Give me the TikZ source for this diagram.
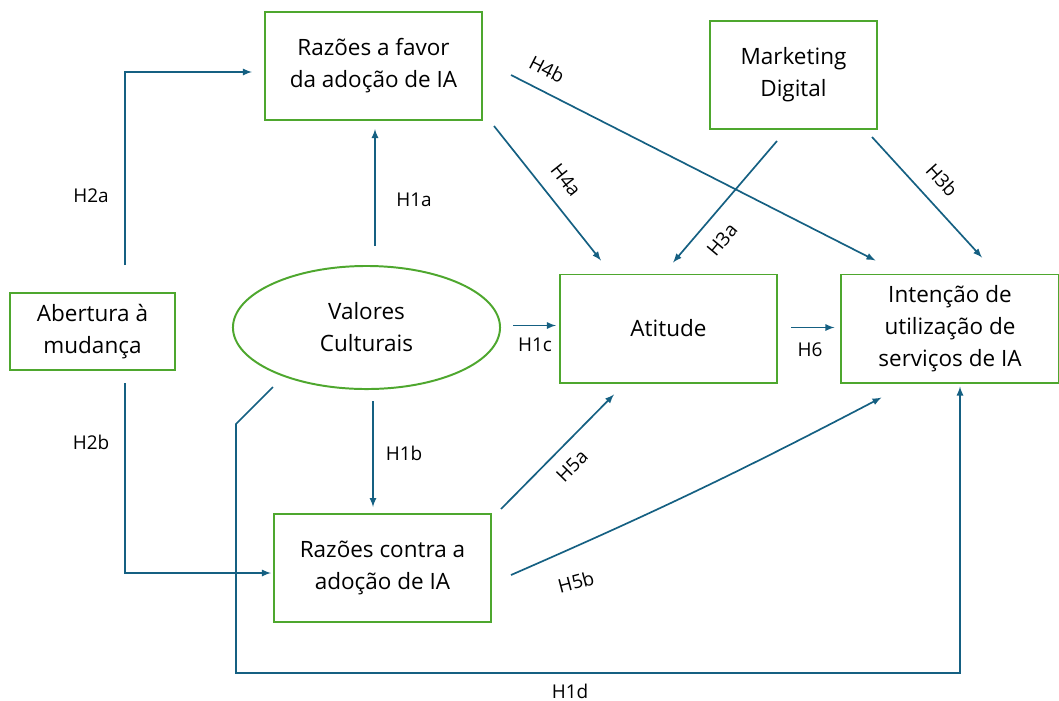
\documentclass[tikz,border=0pt]{standalone}
\usepackage{fontspec}
\setmainfont{Open Sans}
\usetikzlibrary{shapes.geometric,positioning}
\definecolor{boxgreen}{RGB}{78,167,46}
\definecolor{arrblue}{RGB}{21,96,130}
\newcommand{\boxfont}{\fontsize{16}{22.7}\selectfont}
\newcommand{\hypfont}{\fontsize{13.5}{16}\selectfont}

\begin{document}
\begin{tikzpicture}
        [x=0.025cm, y=-0.025cm,
         box/.style={draw=boxgreen, line width=1.4pt, align=center, inner sep=0pt,
                     font=\boxfont, minimum width=5.425cm, minimum height=2.7cm},
         hyp/.style={draw=arrblue, line width=1.2pt, -latex},
         lbl/.style={font=\hypfont, inner sep=0pt}]

        \useasboundingbox (0,0) rectangle (1059,700);

        \node [box] (fav) at (373.5,66) {Razões a favor\\da adoção de IA};
        \node [box, minimum width=4.175cm] (mkt) at (793.5,75) {Marketing\\Digital};
        \node [box, minimum width=4.125cm, minimum height=1.925cm] (abe) at (92.5,331.5) {Abertura à\\mudança};
        \node [box, ellipse, minimum width=6.675cm, minimum height=3.075cm] (val) at (366.5,327.5) {Valores\\Culturais};
        \node [box] (ati) at (668.5,328.5) {Atitude};
        \node [box] (int) at (950,328.5) {Intenção de\\utilização de\\serviços de IA};
        \node [box] (con) at (382.5,568) {Razões contra a\\adoção de IA};

        \node [lbl] (l2a) at (91,196) {H2a};
        \node [lbl] (l1a) at (414,200) {H1a};
        \node [lbl] (l2b) at (91,442) {H2b};
        \node [lbl] (l1b) at (404,453) {H1b};
        \node [lbl] (l1c) at (535,345) {H1c};
        \node [lbl] (l6) at (810,350) {H6};
        \node [lbl, rotate=-51.5] (l4a) at (566,180) {H4a};
        \node [lbl, rotate=-27] (l4b) at (547,69) {H4b};
        \node [lbl, rotate=50] (l3a) at (722,240) {H3a};
        \node [lbl, rotate=-48] (l3b) at (942,180) {H3b};
        \node [lbl, rotate=45.7] (l5a) at (572,466) {H5a};
        \node [lbl, rotate=15] (l5b) at (576,582) {H5b};
        \node [lbl] (l1d) at (570,691) {H1d};

        \draw [hyp] ([shift={(32.5,-27)}]abe.north) |- ([shift={(-12,6)}]fav.west);
        \draw [hyp] ([shift={(8.5,-19)}]val.north) -- ([shift={(1.5,8)}]fav.south);
        \draw [hyp] ([shift={(6.5,11)}]val.south) -- ([shift={(-9.5,-6)}]con.north);
        \draw [hyp] ([shift={(32.5,12)}]abe.south) |- ([shift={(-2,5)}]con.west);
        \draw [hyp] ([shift={(12,-2)}]val.east) -- ([shift={(-3,-3)}]ati.west);
        \draw [hyp] ([shift={(13,-1)}]ati.east) -- ([shift={(-6,-1)}]int.west);
        \draw [hyp] ([shift={(11,5)}]fav.south east) -- ([shift={(42,-13)}]ati.north west);
        \draw [hyp] ([shift={(28,9)}]fav.east) -- ([shift={(35,-13)}]int.north west);
        \draw [hyp] ([shift={(-16.5,11)}]mkt.south) -- ([shift={(4.5,-11)}]ati.north);
        \draw [hyp] ([shift={(-6,7)}]mkt.south east) -- ([shift={(32,-16)}]int.north);
        \draw [hyp] ([shift={(9,-4)}]con.north east) -- ([shift={(-54.5,11)}]ati.south);
        \draw [hyp] ([shift={(19,7)}]con.east) to [bend right=2] ([shift={(41,14)}]int.south west);
        \draw [hyp] ([shift={(-93.5,-3)}]val.south) -- ++(-37,37) -- ++(0,249) -| ([shift={(10,3)}]int.south);
\end{tikzpicture}
\end{document}
